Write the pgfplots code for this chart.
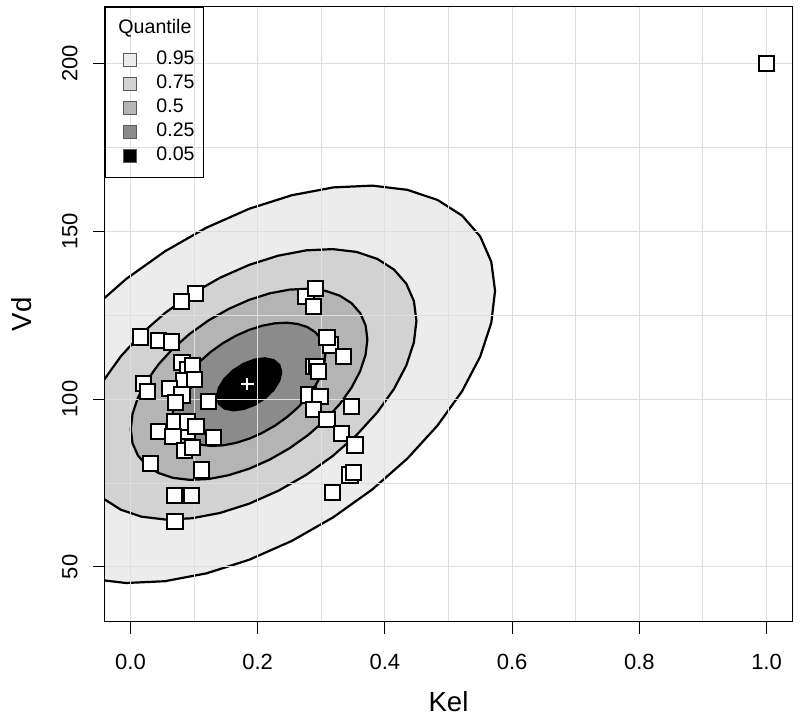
\documentclass[border=0pt]{standalone}
\usepackage{fontspec}
\setmainfont{Liberation Sans}
\usepackage{pgfplots}
\pgfplotsset{compat=1.18}
\usetikzlibrary{calc}
\definecolor{q95}{gray}{0.925}
\definecolor{q75}{gray}{0.825}
\definecolor{q50}{gray}{0.705}
\definecolor{q25}{gray}{0.545}
\definecolor{gridc}{gray}{0.87}
\begin{document}
\begin{tikzpicture}
\begin{axis}[
  set layers,
  clip mode=individual,
  scale only axis,
  width=343.5pt, height=307.5pt,
  xmin=-0.04, xmax=1.04, ymin=33.6, ymax=216.8,
  xtick={0,0.2,0.4,0.6,0.8,1.0},
  ytick={50,100,150,200},
  minor xtick={0.1,0.3,0.5,0.7,0.9},
  minor ytick={75,125,175},
  grid=both,
  major grid style={gridc, line width=0.5pt},
  minor grid style={gridc, line width=0.5pt},
  tick align=outside,
  xtick pos=bottom, ytick pos=left,
  major tick length=6pt,
  minor tick length=0pt,
  tick style={black, line width=0.5pt},
  axis line style={black, line width=0.5pt},
  /pgf/number format/assume math mode=true,
  tick label style={font=\fontsize{11}{13}\selectfont},
  xticklabel style={/pgf/number format/fixed, /pgf/number format/fixed zerofill, /pgf/number format/precision=1, anchor=north, inner sep=0pt},
  yticklabel style={rotate=90, anchor=south, inner sep=0pt},
  xticklabel shift=10pt,
  yticklabel shift=7.5pt,
  label style={font=\fontsize{13.8}{16}\selectfont, inner sep=0pt},
  xlabel={Kel}, ylabel={Vd},
  xlabel style={at={(axis description cs:0.5,-0.1301)}, anchor=center},
  ylabel style={at={(axis description cs:-0.1208,0.5)}, anchor=center},
  legend cell align=left,
  legend style={at={(0,1)}, anchor=north west, fill=none, draw=black, line width=0.5pt,
    font=\fontsize{9.8}{11}\selectfont, inner xsep=4.5pt, inner ysep=4.6pt,
    column sep=9.5pt, row sep=0pt,
    nodes={inner sep=0pt, text height=8.3pt, text depth=3.7pt}},
]
% 0.95 region
\addplot[on layer=axis background, forget plot, fill=q95, draw=black, line width=1.1pt] coordinates {
(0.5732,132.24) (0.5673,140.89) (0.5499,148.44) (0.5214,154.65) (0.4827,159.33) (0.4351,162.34) (0.3799,163.59) (0.3188,163.05) (0.2536,160.72) (0.1865,156.68) (0.1194,151.06) (0.0542,144.01) (-0.0069,135.76) (-0.0621,126.56) (-0.1097,116.68) (-0.1484,106.44) (-0.1769,96.12) (-0.1943,86.06) (-0.2002,76.56) (-0.1943,67.91) (-0.1769,60.36) (-0.1484,54.15) (-0.1097,49.47) (-0.0621,46.46) (-0.0069,45.21) (0.0542,45.75) (0.1194,48.08) (0.1865,52.12) (0.2536,57.74) (0.3188,64.79) (0.3799,73.04) (0.4351,82.24) (0.4827,92.12) (0.5214,102.36) (0.5499,112.68) (0.5673,122.74) (0.5732,132.24)
} -- cycle;
% 0.75 region
\addplot[on layer=axis background, forget plot, fill=q75, draw=black, line width=1.1pt] coordinates {
(0.4496,123.34) (0.4456,129.23) (0.4337,134.37) (0.4143,138.59) (0.3880,141.77) (0.3556,143.83) (0.3181,144.68) (0.2765,144.31) (0.2322,142.72) (0.1865,139.97) (0.1408,136.14) (0.0965,131.35) (0.0549,125.73) (0.0174,119.48) (-0.0150,112.76) (-0.0413,105.79) (-0.0607,98.77) (-0.0726,91.92) (-0.0766,85.46) (-0.0726,79.57) (-0.0607,74.43) (-0.0413,70.21) (-0.0150,67.03) (0.0174,64.97) (0.0549,64.12) (0.0965,64.49) (0.1408,66.08) (0.1865,68.83) (0.2322,72.66) (0.2765,77.45) (0.3181,83.07) (0.3556,89.32) (0.3880,96.04) (0.4143,103.01) (0.4337,110.03) (0.4456,116.88) (0.4496,123.34)
} -- cycle;
% 0.5 region
\addplot[on layer=axis background, forget plot, fill=q50, draw=black, line width=1.1pt] coordinates {
(0.3725,117.79) (0.3697,121.95) (0.3613,125.58) (0.3476,128.57) (0.3290,130.82) (0.3061,132.27) (0.2795,132.87) (0.2501,132.61) (0.2188,131.49) (0.1865,129.55) (0.1542,126.84) (0.1229,123.45) (0.0935,119.48) (0.0669,115.06) (0.0440,110.31) (0.0254,105.38) (0.0117,100.42) (0.0033,95.58) (0.0005,91.01) (0.0033,86.85) (0.0117,83.22) (0.0254,80.23) (0.0440,77.98) (0.0669,76.53) (0.0935,75.93) (0.1229,76.19) (0.1542,77.31) (0.1865,79.25) (0.2188,81.96) (0.2501,85.35) (0.2795,89.32) (0.3061,93.74) (0.3290,98.49) (0.3476,103.42) (0.3613,108.38) (0.3697,113.22) (0.3725,117.79)
} -- cycle;
% 0.25 region
\addplot[on layer=axis background, forget plot, fill=q25, draw=black, line width=1.1pt] coordinates {
(0.3063,113.03) (0.3045,115.71) (0.2991,118.05) (0.2902,119.98) (0.2783,121.43) (0.2635,122.36) (0.2464,122.75) (0.2275,122.58) (0.2073,121.86) (0.1865,120.61) (0.1657,118.86) (0.1455,116.68) (0.1266,114.12) (0.1095,111.27) (0.0947,108.21) (0.0828,105.03) (0.0739,101.83) (0.0685,98.71) (0.0667,95.77) (0.0685,93.09) (0.0739,90.75) (0.0828,88.82) (0.0947,87.37) (0.1095,86.44) (0.1266,86.05) (0.1455,86.22) (0.1657,86.94) (0.1865,88.19) (0.2073,89.94) (0.2275,92.12) (0.2464,94.68) (0.2635,97.53) (0.2783,100.59) (0.2902,103.77) (0.2991,106.97) (0.3045,110.09) (0.3063,113.03)
} -- cycle;
% 0.05 region
\addplot[on layer=axis background, forget plot, fill=black, draw=black, line width=1.1pt] coordinates {
(0.2371,108.04) (0.2340,110.16) (0.2253,111.59) (0.2118,112.15) (0.1953,111.77) (0.1777,110.50) (0.1612,108.50) (0.1477,106.01) (0.1390,103.32) (0.1359,100.76) (0.1390,98.64) (0.1477,97.21) (0.1612,96.65) (0.1777,97.03) (0.1953,98.30) (0.2118,100.30) (0.2253,102.79) (0.2340,105.48) (0.2371,108.04)
} -- cycle;
% centre
\addplot[forget plot, only marks, mark=+, mark size=3.2pt, mark options={white, line width=1pt}] coordinates {(0.184,104.5)};
% observations
\addplot[forget plot, only marks, mark=square*, mark size=3.8pt, mark options={fill=white, draw=black, line width=1pt}] coordinates {
(0.102,131.5) (0.080,129.0) (0.016,118.5) (0.044,117.4) (0.064,117.0)
(0.081,110.9) (0.090,108.8) (0.097,109.9) (0.084,105.6) (0.101,105.9) (0.021,104.7) (0.027,102.2)
(0.062,103.2) (0.081,101.2) (0.071,99.1) (0.123,99.4) (0.089,90.5) (0.069,93.2)
(0.090,93.2) (0.103,91.9) (0.044,90.3) (0.067,88.8) (0.130,88.6)
(0.085,84.8) (0.097,85.6) (0.031,80.9) (0.112,78.9) (0.069,71.2)
(0.096,71.2) (0.070,63.5)
(0.276,130.5) (0.288,127.5) (0.291,133.0) (0.314,116.1) (0.309,118.3)
(0.335,112.8) (0.288,109.6) (0.293,109.6) (0.296,108.1) (0.280,101.2) (0.298,100.7)
(0.288,97.0) (0.348,97.9) (0.309,93.9) (0.332,89.8) (0.353,86.3)
(0.345,77.4) (0.351,78.1) (0.318,72.1)
(1.0,200)
};
% legend
\addlegendimage{empty legend}
\addlegendentry[text depth=7.3pt]{\hspace*{-19pt}Quantile}
\addlegendimage{legend image code/.code={\path (0pt,0pt) (11pt,0pt); \draw[black!65,line width=0.5pt,fill=q95] (4.3pt,-3.3pt) rectangle (11pt,3.3pt);}}
\addlegendentry{0.95}
\addlegendimage{legend image code/.code={\path (0pt,0pt) (11pt,0pt); \draw[black!65,line width=0.5pt,fill=q75] (4.3pt,-3.3pt) rectangle (11pt,3.3pt);}}
\addlegendentry{0.75}
\addlegendimage{legend image code/.code={\path (0pt,0pt) (11pt,0pt); \draw[black!65,line width=0.5pt,fill=q50] (4.3pt,-3.3pt) rectangle (11pt,3.3pt);}}
\addlegendentry{0.5}
\addlegendimage{legend image code/.code={\path (0pt,0pt) (11pt,0pt); \draw[black!65,line width=0.5pt,fill=q25] (4.3pt,-3.3pt) rectangle (11pt,3.3pt);}}
\addlegendentry{0.25}
\addlegendimage{legend image code/.code={\path (0pt,0pt) (11pt,0pt); \draw[black!65,line width=0.5pt,fill=black] (4.3pt,-3.3pt) rectangle (11pt,3.3pt);}}
\addlegendentry{0.05}
\end{axis}
\pgfresetboundingbox
\path[use as bounding box] ($(current axis.south west)+(-52.5pt,-50pt)$) rectangle ($(current axis.north east)+(4pt,3.5pt)$);
\end{tikzpicture}
\end{document}
